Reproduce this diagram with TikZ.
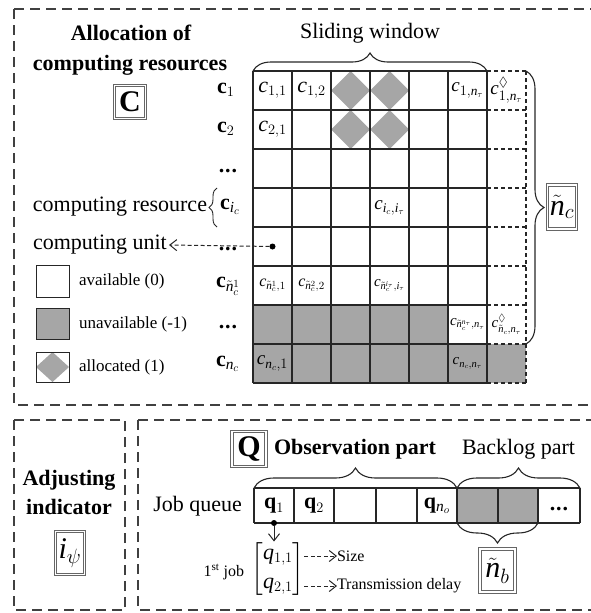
\documentclass[tikz,border=0pt]{standalone}
\usepackage{amsmath,amssymb}
\usepackage{fontspec}
\setmainfont{Liberation Serif}
\usetikzlibrary{decorations.pathreplacing,arrows.meta}
\newcommand\Ci{\mathit{c}}
\newcommand\Ni{\mathit{n}}
\newcommand\Ii{\mathit{i}}
\newcommand\Qi{\mathit{q}}
\newcommand\Tn{\tilde{\mathit{n}}}
\newcommand\bdots{\textbf{.\kern1pt.\kern1pt.}}
\begin{document}
\begin{tikzpicture}[x=1pt,y=-1pt,
  every node/.style={inner sep=0pt,outer sep=0pt},
  big/.style={font=\fontsize{22}{26}\selectfont},
  bigb/.style={font=\fontsize{22}{26}\selectfont\bfseries},
  mid/.style={font=\fontsize{19}{22}\selectfont},
  sml/.style={font=\fontsize{16}{19}\selectfont},
  tiny16/.style={font=\fontsize{15}{18}\selectfont},
  huge/.style={font=\fontsize{30}{34}\selectfont},
  region/.style={draw=black!75,line width=1.2pt,dash pattern=on 10pt off 6pt},
  gridline/.style={draw=black!85,line width=1.1pt},
  dgrid/.style={draw=black!85,line width=1.1pt,dash pattern=on 4pt off 3pt},
  gfill/.style={fill=black!35},
  dbox/.style={draw=black!60,line width=0.9pt,double=white,double distance=1.4pt,inner sep=0pt},
  bracestyle/.style={draw=black!85,line width=1.1pt,decorate},
  conn/.style={draw=black!85,line width=1pt,dash pattern=on 4pt off 2.5pt,-{Straight Barb[length=7pt,width=11pt]}}
]
\useasboundingbox (0,0) rectangle (590,613);

% region boxes
\draw[region] (14,9) -- (596,9);
\draw[region] (14,9) -- (14,405) -- (596,405);
\draw[region] (14,420) rectangle (125,610);
\draw[region] (138,420) -- (596,420);
\draw[region] (138,420) -- (138,610) -- (596,610);

% gray areas
\fill[gfill] (253,305) rectangle (448,344);
\fill[gfill] (253,344) rectangle (526,383);
\foreach \c/\r in {3/1,4/1,3/2,4/2}
  \fill[gfill] (253+39*\c-39,71+39*\r-19.5) -- (253+39*\c-19.5,71+39*\r-39) -- (253+39*\c,71+39*\r-19.5) -- (253+39*\c-19.5,71+39*\r) -- cycle;

% grid
\foreach \i in {0,...,6} \draw[gridline] (253+39*\i,71) -- (253+39*\i,383);
\foreach \j in {0,...,8} \draw[gridline] (253,71+39*\j) -- (487,71+39*\j);
\foreach \j in {0,...,8} \draw[dgrid] (487,71+39*\j) -- (526,71+39*\j);
\draw[dgrid] (526,71) -- (526,383);

% braces
\draw[bracestyle,decoration={brace,amplitude=18pt}] (253,71) -- (487,71);
\draw[bracestyle,decoration={brace,amplitude=18pt}] (526,71) -- (526,344);
\node[big] (sw) at (370,33) {Sliding window};
\node[dbox,minimum width=29pt,minimum height=44pt,huge] (nc) at (562,207) {$\Tn_c$};

% title
\node[bigb] (t1) at (131,33) {Allocation of};
\node[bigb] (t2) at (130,65) {computing resources};
\node[dbox,minimum width=31pt,minimum height=33pt,huge] (C) at (130,102) {\bfseries C};

% row labels
\node[big,anchor=west] (r1) at (217,90) {$\mathbf{c}_1$};
\node[big,anchor=west] (r2) at (217,129) {$\mathbf{c}_2$};
\node[big,anchor=base] (r3) at (228,172) {\bdots};
\node[big,anchor=west] (r4) at (220,207) {$\mathbf{c}_{\Ii_c}$};
\node[big,anchor=base] (r5) at (228,250) {\bdots};
\node[big,anchor=west] (r6) at (216,286) {$\mathbf{c}_{\Tn_c^1}$};
\node[big,anchor=base] (r7) at (228,328) {\bdots};
\node[big,anchor=west] (r8) at (216,364) {$\mathbf{c}_{\Ni_c}$};

\node[big,anchor=east] (cres) at (207,207) {computing resource};
\draw[bracestyle,line width=0.9pt,decoration={brace,amplitude=8pt}] (217,227) -- (217,188);
\node[big,anchor=west] (cunit) at (33,245) {computing unit};
\node[circle,fill=black,minimum size=6pt] (udot) at (272.5,246.5) {};
\draw[conn] (udot) -- (cunit.east -| 169,0);

% cell labels
\node[big] (c11) at (272.5,90.5) {$\Ci_{1,1}$};
\node[big] (c12) at (311.5,90.5) {$\Ci_{1,2}$};
\node[mid] (c1n) at (467.5,90.5) {$\Ci_{1,\Ni_\tau}$};
\node[mid] (c1d) at (506.5,90.5) {$\Ci^{\lozenge}_{1,\Ni_\tau}$};
\node[big] (c21) at (272.5,129.5) {$\Ci_{2,1}$};
\node[mid] (cii) at (389.5,207.5) {$\Ci_{\Ii_c,\Ii_\tau}$};
\node[sml] (cn1) at (272.5,285.5) {$\Ci_{\Tn_c^1,1}$};
\node[sml] (cn2) at (311.5,285.5) {$\Ci_{\Tn_c^2,2}$};
\node[tiny16] (cni) at (389.5,285.5) {$\Ci_{\Tn_c^{\Ii_\tau},\Ii_\tau}$};
\node[tiny16] (cnn) at (467.5,324.5) {$\Ci_{\Tn_c^{\Ni_\tau},\Ni_\tau}$};
\node[tiny16] (cnd) at (506.5,324.5) {$\Ci^{\lozenge}_{\Tn_c,\Ni_\tau}$};
\node[mid] (cN1) at (272.5,363.5) {$\Ci_{\Ni_c,1}$};
\node[tiny16] (cNn) at (467.5,363.5) {$\Ci_{\Ni_c,\Ni_\tau}$};

% legend
\draw[gridline,line width=0.9pt] (36,265) rectangle (69,297);
\fill[gfill] (36,308) rectangle (69,339);
\draw[gridline,line width=0.9pt] (36,308) rectangle (69,339);
\fill[gfill] (36,367) -- (52.5,352) -- (69,367) -- (52.5,382) -- cycle;
\draw[gridline,line width=0.9pt] (36,352) rectangle (69,382);
\node[font=\fontsize{17}{20}\selectfont,anchor=west] (l1) at (79,281) {available (0)};
\node[font=\fontsize{17}{20}\selectfont,anchor=west] (l2) at (79,324) {unavailable (-1)};
\node[font=\fontsize{17}{20}\selectfont,anchor=west] (l3) at (79,367) {allocated (1)};

% adjusting indicator
\node[bigb] (a1) at (69,480) {Adjusting};
\node[bigb] (a2) at (69,507) {indicator};
\node[dbox,minimum width=29pt,minimum height=43pt,huge] (ipsi) at (70,553) {$\Ii_\psi$};

% job queue part
\node[dbox,minimum width=34pt,minimum height=35pt,huge] (Q) at (249,449) {\bfseries Q};
\node[bigb,anchor=west] (obs) at (274,449) {Observation part};
\node[big,anchor=west] (bkl) at (462,449) {Backlog part};
\node[big,anchor=east] (jq) at (242,506) {Job queue};

\fill[gfill] (457,488) rectangle (538,523);
\foreach \x in {254,294,334,376,417,457,498,538,580} \draw[gridline] (\x,488) -- (\x,523);
\draw[gridline] (254,488) -- (580,488);
\draw[gridline] (254,523) -- (580,523);
\node[big] (q1) at (274,506) {$\mathbf{q}_1$};
\node[big] (q2) at (314,506) {$\mathbf{q}_2$};
\node[big] (qn) at (437,506) {$\mathbf{q}_{\Ni_o}$};
\node[big,anchor=base] (qd) at (559,510) {\bdots};

\draw[bracestyle,decoration={brace,amplitude=20pt}] (254,488) -- (457,488);
\draw[bracestyle,decoration={brace,amplitude=20pt}] (457,488) -- (580,488);
\draw[bracestyle,decoration={brace,amplitude=20pt}] (538,523) -- (457,523);
\node[dbox,minimum width=35pt,minimum height=43pt,huge] (nb) at (497.5,570.5) {$\Tn_b$};

\node[circle,fill=black,minimum size=6pt] (qdot) at (274,523) {};
\node[big] (job) at (278,569) {$\begin{bmatrix} \Qi_{1,1}\\[3pt] \Qi_{2,1}\end{bmatrix}$};
\draw[draw=black!85,line width=1pt,-{Straight Barb[length=7pt,width=11pt]}] (qdot) -- (qdot |- job.north);
\node[sml,anchor=east] (first) at (244,572) {1\textsuperscript{st} job};
\node[sml,anchor=west] (size) at (337,556) {Size};
\node[sml,anchor=west] (tdel) at (337,586) {Transmission delay};
\draw[conn] (job.east |- size.west) -- (size.west);
\draw[conn] (job.east |- tdel.west) -- (tdel.west);
\end{tikzpicture}
\end{document}
